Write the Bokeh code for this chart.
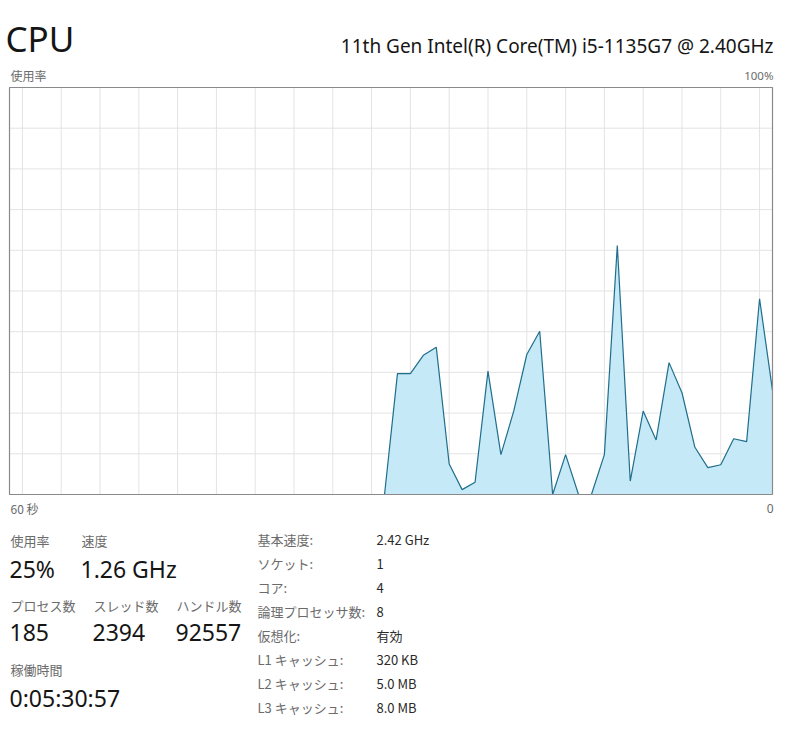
from bokeh.plotting import figure
from bokeh.models import Range1d, Label, ColumnDataSource
from bokeh.embed import file_html
from bokeh.resources import INLINE

# ---------------- data ----------------
title = "CPU"
cpu_name = "11th Gen Intel(R) Core(TM) i5-1135G7 @ 2.40GHz"
y_label = "使用率"
y_max_label = "100%"
x_left_label = "60 秒"
x_right_label = "0"

# CPU usage (%) for the last 60 samples (oldest -> newest)
usage = [0, 0, 0, 0, 0, 0, 0, 0, 0, 0,
         0, 0, 0, 0, 0, 0, 0, 0, 0, 0,
         0, 0, 0, 0, 0, 0, 0, 0, 0, 0,
         29.7, 29.7, 34.2, 36.2, 7.5, 1.2, 3.0, 30.3, 9.8, 20.6,
         34.4, 40.1, 0, 9.8, 0, 0, 9.8, 61.2, 3.3, 20.5,
         13.4, 32.4, 25.0, 11.6, 6.6, 7.3, 13.7, 13.0, 48.1, 25.6]
samples = list(range(len(usage)))

v_grid = list(range(1, 60, 3))        # scrolling grid columns (sample index)
h_grid = [10, 20, 30, 40, 50, 60, 70, 80, 90]

stat_row1_labels = ["使用率", "速度"]
stat_row1_values = ["25%", "1.26 GHz"]
stat_row2_labels = ["プロセス数", "スレッド数", "ハンドル数"]
stat_row2_values = ["185", "2394", "92557"]
uptime_label = "稼働時間"
uptime_value = "0:05:30:57"

spec_labels = ["基本速度:", "ソケット:", "コア:", "論理プロセッサ数:", "仮想化:",
               "L1 キャッシュ:", "L2 キャッシュ:", "L3 キャッシュ:"]
spec_values = ["2.42 GHz", "1", "4", "8", "有効", "320 KB", "5.0 MB", "8.0 MB"]

# ---------------- layout ----------------
W, H = 800, 736
frame_l, frame_r, frame_t, frame_b = 9, 772, 87, 494   # chart box in figure px
n = len(usage) - 1
sx = (frame_r - frame_l) / n
sy = (frame_b - frame_t) / 100.0

p = figure(width=W, height=H, output_backend="svg", toolbar_location=None,
           x_range=Range1d(-frame_l / sx, n + (W - frame_r) / sx),
           y_range=Range1d(-(H - frame_b) / sy, 100 + frame_t / sy),
           x_axis_location=None, y_axis_location=None,
           min_border=0, outline_line_color=None, background_fill_color="white",
           border_fill_color="white")
p.grid.visible = False

GRID = "#e3e3e3"
# grid
p.segment(x0=v_grid, y0=[0] * len(v_grid), x1=v_grid, y1=[100] * len(v_grid),
          line_color=GRID, line_width=1)
p.segment(x0=[0] * len(h_grid), y0=h_grid, x1=[n] * len(h_grid), y1=h_grid,
          line_color=GRID, line_width=1)

src = ColumnDataSource(dict(x=samples, y=usage))
p.varea(x="x", y1=0, y2="y", source=src, fill_color="#c5e9f7")
p.line(x="x", y="y", source=src, line_color="#1f6e8c", line_width=1.2)

# border
p.quad(left=[0], right=[n], bottom=[0], top=[100], fill_color=None,
       line_color="#8a8a8a", line_width=1.2)

LATIN = "Noto Sans"
CJK = "Noto Sans CJK JP"
GRAY = "#6b6b6b"
BLACK = "#151515"


def lab(text, px, py, size, color, font, align="left", baseline="middle"):
    p.add_layout(Label(x=px, y=H - py, x_units="screen", y_units="screen",
                       text=text, text_font=font, text_font_size=f"{size}px",
                       text_color=color, text_align=align, text_baseline=baseline))


lab(title, 5, 38, 35, BLACK, LATIN)
lab(cpu_name, 773, 45, 19, BLACK, LATIN, align="right")
lab(y_label, 10, 75, 12, GRAY, CJK)
lab(y_max_label, 773, 75, 11.5, GRAY, LATIN, align="right")
lab(x_left_label, 10, 508, 12, GRAY, CJK)
lab(x_right_label, 773, 508, 12, GRAY, LATIN, align="right")

row1_x = [10, 81]
for t, v, x in zip(stat_row1_labels, stat_row1_values, row1_x):
    lab(t, x, 540, 13, GRAY, CJK)
    lab(v, x - 1, 568, 23, BLACK, LATIN)

row2_x = [10, 93, 176]
for t, v, x in zip(stat_row2_labels, stat_row2_values, row2_x):
    lab(t, x, 605, 13, GRAY, CJK)
    lab(v, x - 1, 632, 23, BLACK, LATIN)

lab(uptime_label, 10, 669, 13, GRAY, CJK)
lab(uptime_value, 9, 697, 23, BLACK, LATIN)

for k, (t, v) in enumerate(zip(spec_labels, spec_values)):
    yy = 539 + k * 24
    lab(t, 257, yy, 13, GRAY, CJK)
    lab(v, 376, yy, 13, "#2a2a2a", CJK)

open("out.html", "w").write(file_html(p, INLINE))
